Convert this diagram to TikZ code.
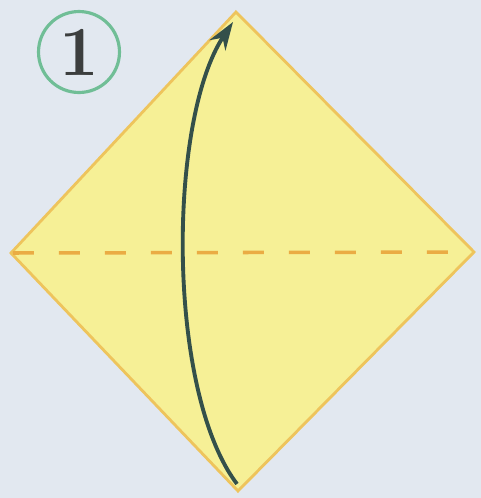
\documentclass[tikz,border=0pt]{standalone}
\usepackage{tikz}
\usetikzlibrary{arrows.meta, positioning, calc}

\definecolor{paperbg}{RGB}{226,232,240}
\definecolor{sheetfill}{RGB}{246,240,150}
\definecolor{sheetedge}{RGB}{238,196,92}
\definecolor{foldline}{RGB}{234,172,68}
\definecolor{arrowcol}{RGB}{52,80,74}
\definecolor{stepring}{RGB}{112,190,150}
\definecolor{stepnum}{RGB}{60,62,62}

\begin{document}
\begin{tikzpicture}[
  x=0.02cm, y=-0.02cm,
  %% Sheet and fold line
  sheet/.style  ={fill=sheetfill, draw=sheetedge, line width=1.6pt, line join=miter},
  valley/.style ={draw=foldline, line width=2pt, dash pattern=on 0.42cm off 0.5cm},
  %% Fold arrow
  farr/.style   ={-{Stealth[length=0.56cm, width=0.38cm]}, draw=arrowcol, line width=2.2pt},
  %% Step number in a ring
  stepring/.style={circle, draw=stepring, line width=1.8pt, minimum size=1.62cm,
                   inner sep=0pt, text=stepnum, font=\fontsize{40}{40}\selectfont\bfseries}
]
\useasboundingbox[fill=paperbg] (0,0) rectangle (481,498);

%% ── SHEET CORNERS ─────────────────────────────────────────────
\coordinate (ctop)    at (236, 12);
\coordinate (cleft)   at (11, 253);
\coordinate (cright)  at (474, 252);
\coordinate (cbottom) at (238, 491);

\draw[sheet] (ctop) -- (cright) -- (cbottom) -- (cleft) -- cycle;

%% valley fold across the middle
\draw[valley] ([xshift=0.04cm]cleft) -- ([xshift=-0.04cm]cright);

%% ── FOLD ARROW: bottom corner up to top corner ────────────────
\coordinate (afrom) at (237, 484);
\coordinate (ato)   at (233, 22);
\draw[farr] (afrom) .. controls (166, 390) and (168, 120) .. (ato);

%% ── STEP NUMBER ───────────────────────────────────────────────
\node[stepring] (step1) at (79, 52) {1};

\end{tikzpicture}
\end{document}
